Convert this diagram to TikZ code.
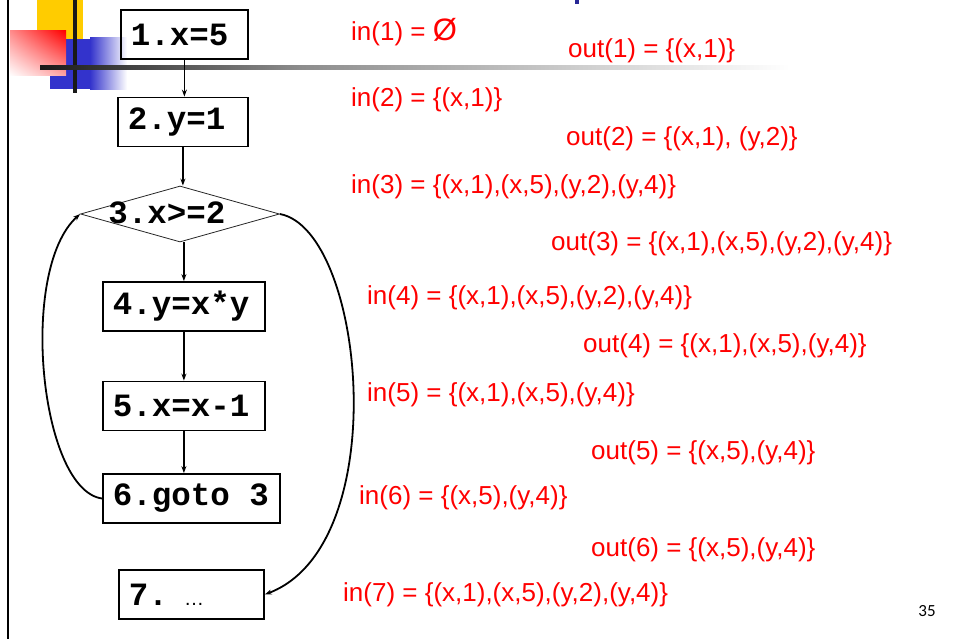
\documentclass[tikz,border=0pt]{standalone}
\usepackage{fontspec}
\setmainfont{Liberation Sans}
\newfontfamily\codefont{Liberation Mono}[WordSpace={1,0,0}]
\newfontfamily\pagefont{Carlito}
\usepackage{xcolor}
\definecolor{slidered}{RGB}{255,0,0}
\definecolor{slideblue}{RGB}{51,51,204}
\definecolor{slideyellow}{RGB}{255,204,0}
\definecolor{titleblue}{RGB}{40,40,150}
\usetikzlibrary{arrows.meta,shapes.geometric,shadings}

\begin{document}
\begin{tikzpicture}[x=1pt,y=1pt,>={Stealth[length=7pt,width=5pt]},
    stmt/.style={draw,line width=1.8pt,anchor=west,minimum height=49pt,
                 inner xsep=10pt,align=left,font=\codefont\bfseries\fontsize{32.5}{36}\selectfont},
    flow/.style={->,line width=1.3pt},
    loopback/.style={->,line width=1.8pt},
    dfset/.style={anchor=base west,inner sep=0pt,text=slidered,
                  font=\fontsize{26}{30}\selectfont}]
  \useasboundingbox (0,0) rectangle (959,-639);
  % slide decoration
  \draw[line width=2pt] (8,0) -- (8,-639);
  \fill[slideyellow] (37,0) rectangle (83,-45);
  \fill[slideblue] (50,-39) rectangle (90,-89);
  \shade[left color=slideblue,right color=white] (90,-38) rectangle (127,-90);
  \shade[upper right=slidered,upper left=slidered!45!white,
         lower right=slidered!35!white,lower left=white] (10,-31) rectangle (66,-76);
  \fill[black!90] (73,0) rectangle (77,-93);
  \shade[left color=black!90,right color=black!45] (40,-66) rectangle (300,-70);
  \shade[left color=black!45,right color=white] (300,-66) rectangle (790,-70);
  \fill[titleblue] (575,0) rectangle (579,-4);

  % flow graph
  \node[stmt,text width=107pt] (b1) at (120,-34.5) {1.x=5};
  \node[stmt,text width=110pt] (b2) at (117,-122) {2.y=1};
  \node[diamond,draw=black!85,line width=0.8pt,minimum width=199pt,
        minimum height=56pt,inner sep=0pt] (d3) at (180,-214) {};
  \node[font=\codefont\bfseries\fontsize{32.5}{36}\selectfont,inner sep=0pt]
        (t3) at (167,-213) {3.x>=2};
  \node[stmt,text width=142pt] (b4) at (102,-306.5) {4.y=x*y};
  \node[stmt,text width=142pt] (b5) at (102,-406) {5.x=x-1};
  \node[stmt,text width=157pt] (b6) at (102,-498.5) {6.goto\hspace{0.6em}3};
  \node[stmt,text width=125pt] (b7) at (118,-594.5)
        {7. {\rmfamily\mdseries\fontsize{20}{20}\selectfont …}};

  \draw[flow] (b1.south) -- (b1.south |- b2.north);
  \draw[flow] (b2.south) -- (b2.south |- d3.north);
  \draw[flow] (d3.south -| b4.north) -- (b4.north);
  \draw[flow] (b4.south) -- (b5.north);
  \draw[flow] (b5.south) -- (b5.south |- b6.north);
  \draw[loopback] (b6.west) .. controls (40,-490) and (18,-270) .. (d3.west);
  \draw[loopback] (d3.east) .. controls (365,-230) and (395,-545) .. (b7.east);

  % in / out sets
  \node[dfset] (in1)  at (351,-41)  {in(1) = {\fontsize{31}{31}\selectfont Ø}};
  \node[dfset] (out1) at (568,-58)  {out(1) = \{(x,1)\}};
  \node[dfset] (in2)  at (351,-107) {in(2) = \{(x,1)\}};
  \node[dfset] (out2) at (566,-146) {out(2) = \{(x,1), (y,2)\}};
  \node[dfset] (in3)  at (351,-194) {in(3) = \{(x,1),(x,5),(y,2),(y,4)\}};
  \node[dfset] (out3) at (551,-251) {out(3) = \{(x,1),(x,5),(y,2),(y,4)\}};
  \node[dfset] (in4)  at (367,-305) {in(4) = \{(x,1),(x,5),(y,2),(y,4)\}};
  \node[dfset] (out4) at (583,-352) {out(4) = \{(x,1),(x,5),(y,4)\}};
  \node[dfset] (in5)  at (367,-401) {in(5) = \{(x,1),(x,5),(y,4)\}};
  \node[dfset] (out5) at (591,-459) {out(5) = \{(x,5),(y,4)\}};
  \node[dfset] (in6)  at (359,-504) {in(6) = \{(x,5),(y,4)\}};
  \node[dfset] (out6) at (591,-556) {out(6) = \{(x,5),(y,4)\}};
  \node[dfset] (in7)  at (343,-601) {in(7) = \{(x,1),(x,5),(y,2),(y,4)\}};

  \node[font=\pagefont\fontsize{17}{20}\selectfont] (page) at (927,-611) {35};
\end{tikzpicture}
\end{document}
